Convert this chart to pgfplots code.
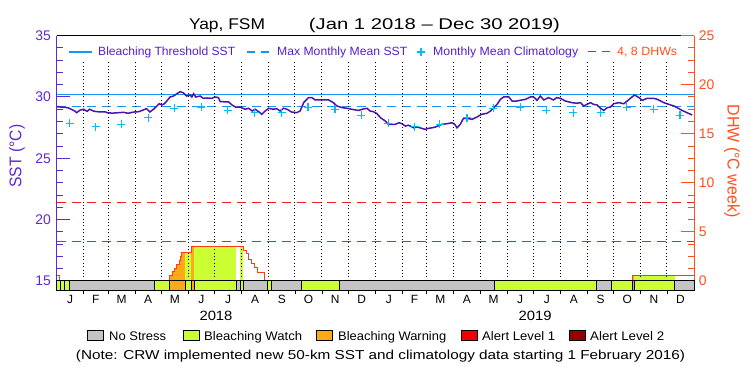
\documentclass[border=0pt]{standalone}
\usepackage{pgfplots}
\pgfplotsset{compat=1.18}
\usepackage{fontspec}
\setmainfont{Liberation Sans}
\usepackage{graphicx}
\newcommand\fitw[2]{\resizebox{#1}{\height}{#2}}
\newcommand\fs[1]{\fontsize{#1}{#1}\selectfont}
\definecolor{leftcol}{RGB}{96,40,210}
\definecolor{legcol}{RGB}{85,30,205}
\definecolor{sstcol}{RGB}{75,20,170}
\definecolor{thrcol}{RGB}{25,150,240}
\definecolor{climcol}{RGB}{0,190,245}
\definecolor{dhwcol}{RGB}{255,60,20}
\definecolor{rightcol}{RGB}{255,80,30}
\definecolor{dashred}{RGB}{240,30,30}
\definecolor{watchcol}{RGB}{204,255,51}
\definecolor{warncol}{RGB}{255,170,20}
\definecolor{graycol}{RGB}{196,196,196}
\definecolor{al1col}{RGB}{240,0,0}
\definecolor{al2col}{RGB}{150,0,0}
\newcommand\seg[3]{\addplot[fill=#3,draw=black,line width=0.8bp] coordinates {(#1,-1)(#1,0)(#2,0)(#2,-1)} --cycle;}
\newcommand\fillbar[4]{\addplot[fill=#4,draw=none] coordinates {(#1,0)(#1,#3)(#2,#3)(#2,0)} --cycle;}
\begin{document}
\begin{tikzpicture}
\path[use as bounding box] (0bp,0bp) rectangle (750bp,375bp);
% title
\node[anchor=base,font=\fs{15.6},inner sep=0] at (227bp,345bp) {\fitw{76bp}{Yap, FSM}};
\node[anchor=base,font=\fs{15.6},inner sep=0] at (434.5bp,345bp) {\fitw{251bp}{(Jan 1 2018 -- Dec 30 2019)}};
% SST axis
\begin{axis}[
  at={(56.5bp,84.3bp)}, anchor=south west,
  scale only axis, width=637.5bp, height=255bp,
  xmin=0, xmax=730, ymin=14.2, ymax=35,
  separate axis lines,
  axis x line*=box, axis y line*=left,
  x axis line style={black,line width=1bp},
  y axis line style={leftcol,line width=1bp},
  xtick={15.5,45,74.5,105,135.5,166,196.5,227.5,258,288.5,319,349.5,380.5,410,439.5,470,500.5,531,561.5,592.5,623,653.5,684,714.5},
  xticklabels={J,F,M,A,M,J,J,A,S,O,N,D,J,F,M,A,M,J,J,A,S,O,N,D},
  xtick style={draw=none},
  xticklabel style={font=\fs{12}, text=black, anchor=base, yshift=-13.3bp},
  ytick={15,20,25,30,35}, minor y tick num=4,
  ytick style={leftcol,line width=1bp},
  minor y tick style={leftcol,line width=1bp},
  major tick length=13bp, minor tick length=6.5bp, tick align=inside,
  yticklabel style={font=\fs{14}, text=leftcol, anchor=east, xshift=-2bp},
  /pgf/number format/assume math mode=true,
]
\addplot[thrcol, line width=1.3bp] coordinates {(0,30.2)(730,30.2)};
\addplot[thrcol, line width=1.3bp, dash pattern=on 9bp off 6bp] coordinates {(0,29.2)(730,29.2)};
\addplot[climcol, only marks, mark=+, mark size=4bp, line width=1.2bp] coordinates {
(15,27.85)(45,27.58)(74,27.77)(105,28.31)(135,29.08)(166,29.18)(196,28.91)(227,28.72)(258,28.72)(288,29.15)(319,29.0)(349,28.5)
(380,27.85)(410,27.58)(439,27.77)(470,28.31)(500,29.08)(531,29.18)(561,28.91)(592,28.72)(623,28.72)(653,29.15)(684,29.0)(714,28.5)};
\addplot[sstcol, line width=1.5bp] coordinates {
(0,29.21)(13,29.13)(21,28.86)(23,28.72)(27,28.93)(31,29.0)(35,28.83)(38,29.0)(42,28.86)(46,28.8)(56,28.78)(59,28.7)(65,28.69)(71,28.72)(77,28.75)(82,28.67)(88,28.77)(94,28.8)(98,28.9)(103,29.05)(107,28.78)(111,29.0)(115,29.27)(117.5,29.45)(120.6,29.35)(123.5,29.45)(126.3,29.67)(130,30.0)(134,30.08)(138,30.27)(141.5,30.43)(145,30.35)(149,30.08)(153,30.16)(155,30.0)(157,30.27)(159.5,30.0)(164.5,30.08)(168,29.89)(172.5,29.92)(178,29.89)(181.6,30.0)(185.4,29.95)(187.4,29.62)(197,29.6)(201,29.35)(205,29.18)(210,29.18)(216,29.0)(220,29.08)(224,28.86)(227.5,29.0)(233,28.72)(235,28.59)(239,28.86)(243,29.08)(248.5,29.0)(252,29.05)(256,28.86)(260,29.08)(264,29.0)(269,28.78)(275,28.72)(279,28.86)(283,29.54)(288.6,29.95)(292.5,29.95)(296,29.76)(311.5,29.76)(317,29.54)(321,29.27)(327,29.13)(332.6,29.08)(338,29.0)(346,28.9)(350,29.0)(355.5,29.08)(359,28.86)(363,28.8)(367,28.64)(371,28.31)(376.5,28.04)(380,27.77)(388,27.77)(392,27.9)(395.6,27.82)(399.4,27.63)(403,27.7)(409,27.49)(413,27.55)(418.5,27.44)(422,27.36)(426,27.44)(430,27.49)(434,27.55)(441,27.77)(447,27.82)(453,27.9)(456,27.77)(458.6,27.49)(462.4,27.77)(466,28.26)(472,28.23)(476,28.18)(481.5,28.37)(487,28.59)(493,28.67)(497,28.86)(500.6,29.13)(504.5,29.4)(508.3,29.81)(512,30.0)(518,30.0)(521.7,29.67)(527,29.67)(531,29.73)(537,29.81)(542.6,30.0)(546.4,30.0)(550.3,29.73)(554,30.08)(558,29.76)(563.6,29.95)(569,29.76)(573,29.95)(577,29.89)(582.7,29.67)(590,29.54)(596,29.49)(600,29.54)(603.7,29.27)(607.6,29.4)(611.4,29.54)(615,29.4)(619,29.35)(623,29.08)(626.7,28.9)(630.6,29.13)(634.4,29.18)(638,29.45)(644,29.54)(649.6,29.45)(653.5,29.67)(659,30.0)(662,30.16)(667,29.95)(670.7,29.73)(676.4,29.89)(684,29.89)(688,29.81)(695.4,29.54)(701,29.4)(707,29.27)(710.7,29.13)(716.5,28.9)(722,28.72)(728,28.53)};
\end{axis}
% DHW axis
\begin{axis}[
  at={(56.5bp,84.3bp)}, anchor=south west,
  scale only axis, width=637.5bp, height=255bp,
  xmin=0, xmax=730, ymin=-1, ymax=25,
  axis x line=none, axis y line*=right,
  y axis line style={rightcol,line width=1bp},
  ytick={0,5,10,15,20,25}, minor y tick num=3,
  ytick style={rightcol,line width=1bp},
  minor y tick style={rightcol,line width=1bp},
  major tick length=13bp, minor tick length=6.5bp, tick align=inside,
  yticklabel style={font=\fs{14}, text=rightcol, anchor=west, xshift=1.3bp},
  /pgf/number format/assume math mode=true,
  clip=false,
]
% fills under the DHW curve
\addplot[fill=warncol, draw=none] coordinates {(129.3,0)(129.3,0.58)(132.4,0.58)(132.4,0.92)(135,0.92)(135,1.27)(137.3,1.27)(137.3,1.67)(140.4,1.67)(140.4,2.11)(142.3,2.11)(142.3,2.45)(143.5,2.45)(143.5,2.9)(147.3,2.9)(147.3,0)} --cycle;
\fillbar{147.3}{154.1}{2.9}{watchcol}
\fillbar{154.1}{157.9}{3.47}{warncol}
\fillbar{157.9}{206}{3.47}{watchcol}
\fillbar{210.5}{214.1}{3.47}{watchcol}
\fillbar{659.5}{661.5}{0.55}{warncol}
\fillbar{661.5}{708}{0.55}{watchcol}
% month dotted lines and small ticks
\pgfplotsinvokeforeach{31,59,90,120,151,181,212,243,273,304,334,365,396,424,455,485,516,546,577,608,638,669,699}{
  \draw[black, line width=1bp, dash pattern=on 1bp off 2.4bp] (axis cs:#1,0) -- (axis cs:#1,22.5);
  \draw[black, line width=0.8bp] (axis cs:#1,-1) -- (axis cs:#1,-1.3);
}
% DHW outline
\addplot[dhwcol, line width=1bp, const plot] coordinates {(0,0.6)(3.2,0)};
\addplot[dhwcol, line width=1bp, const plot] coordinates {(129.3,0)(129.3,0.58)(132.4,0.92)(135,1.27)(137.3,1.67)(140.4,2.11)(142.3,2.45)(143.5,2.9)(154.1,3.47)(214.1,3.13)(217.2,2.8)(219.8,2.21)(222.9,1.78)(226.3,1.37)(230.3,0.85)(238.1,0)};
\addplot[dhwcol, line width=1bp, const plot] coordinates {(659.2,0)(659.2,0.55)(730,0.55)};
% 4 and 8 DHW lines
\addplot[dashred, line width=1bp, dash pattern=on 9bp off 6bp] coordinates {(0,4)(730,4)};
\addplot[dashred, line width=1bp, dash pattern=on 9bp off 6bp] coordinates {(0,8)(730,8)};
% alert strip
\seg{0}{4.5}{watchcol}
\seg{4.5}{9}{watchcol}
\seg{9}{14.5}{watchcol}
\seg{14.5}{112.1}{graycol}
\seg{112.1}{129.3}{watchcol}
\seg{129.3}{147.3}{warncol}
\seg{147.3}{154.1}{watchcol}
\seg{154.1}{157.9}{warncol}
\seg{157.9}{206}{watchcol}
\seg{206}{210.5}{graycol}
\seg{210.5}{214.1}{watchcol}
\seg{214.1}{242}{graycol}
\seg{242}{246.6}{watchcol}
\seg{246.6}{281}{graycol}
\seg{281}{323.7}{watchcol}
\seg{323.7}{501.4}{graycol}
\seg{501.4}{617.9}{watchcol}
\seg{617.9}{635.1}{graycol}
\seg{635.1}{660}{watchcol}
\seg{660}{662}{warncol}
\seg{662}{708}{watchcol}
\seg{708}{730}{graycol}
\end{axis}
% year labels
\node[anchor=base,font=\fs{13.5},inner sep=0] at (216bp,54.3bp) {\fitw{33bp}{2018}};
\node[anchor=base,font=\fs{13.5},inner sep=0] at (535bp,54.3bp) {\fitw{33bp}{2019}};
% axis titles
\node[rotate=90,font=\fs{17},text=leftcol,inner sep=0] at (17bp,219bp) {\fitw{63bp}{SST (°C)}};
\node[rotate=-90,font=\fs{17},text=rightcol,inner sep=0] at (732bp,214bp) {\fitw{113bp}{DHW (°C week)}};
% top legend
\draw[thrcol, line width=1.3bp] (69bp,323bp) -- (92bp,323bp);
\node[anchor=base west,font=\fs{12},text=legcol,inner sep=0] at (98bp,319bp) {\fitw{137bp}{Bleaching Threshold SST}};
\draw[thrcol, line width=1.3bp, dash pattern=on 8bp off 6bp] (247bp,323bp) -- (270bp,323bp);
\node[anchor=base west,font=\fs{12},text=legcol,inner sep=0] at (277bp,319bp) {\fitw{130bp}{Max Monthly Mean SST}};
\draw[climcol, line width=1.2bp] (417bp,323bp) -- (425bp,323bp) (421bp,319bp) -- (421bp,327bp);
\node[anchor=base west,font=\fs{12},text=legcol,inner sep=0] at (433bp,319bp) {\fitw{145bp}{Monthly Mean Climatology}};
\draw[dashred, line width=1bp, dash pattern=on 8bp off 6bp] (588bp,323bp) -- (612bp,323bp);
\node[anchor=base west,font=\fs{12},text=rightcol,inner sep=0] at (617bp,319bp) {\fitw{60bp}{4, 8 DHWs}};
% bottom legend
\filldraw[fill=graycol,draw=black,line width=0.8bp] (87.3bp,34.3bp) rectangle (103.3bp,45bp);
\node[anchor=base west,font=\fs{12.5},inner sep=0] at (109bp,35bp) {\fitw{57bp}{No Stress}};
\filldraw[fill=watchcol,draw=black,line width=0.8bp] (183.3bp,34.3bp) rectangle (199.3bp,45bp);
\node[anchor=base west,font=\fs{12.5},inner sep=0] at (204bp,35bp) {\fitw{98bp}{Bleaching Watch}};
\filldraw[fill=warncol,draw=black,line width=0.8bp] (316.7bp,34.3bp) rectangle (332.7bp,45bp);
\node[anchor=base west,font=\fs{12.5},inner sep=0] at (338bp,35bp) {\fitw{108bp}{Bleaching Warning}};
\filldraw[fill=al1col,draw=black,line width=0.8bp] (461bp,34.3bp) rectangle (477.7bp,45bp);
\node[anchor=base west,font=\fs{12.5},inner sep=0] at (482bp,35bp) {\fitw{73bp}{Alert Level 1}};
\filldraw[fill=al2col,draw=black,line width=0.8bp] (569.3bp,34.3bp) rectangle (585.7bp,45bp);
\node[anchor=base west,font=\fs{12.5},inner sep=0] at (590bp,35bp) {\fitw{74bp}{Alert Level 2}};
\node[anchor=base,font=\fs{13},inner sep=0] at (380.5bp,15.7bp) {\fitw{609bp}{(Note: CRW implemented new 50-km SST and climatology data starting 1 February 2016)}};
\end{tikzpicture}
\end{document}
